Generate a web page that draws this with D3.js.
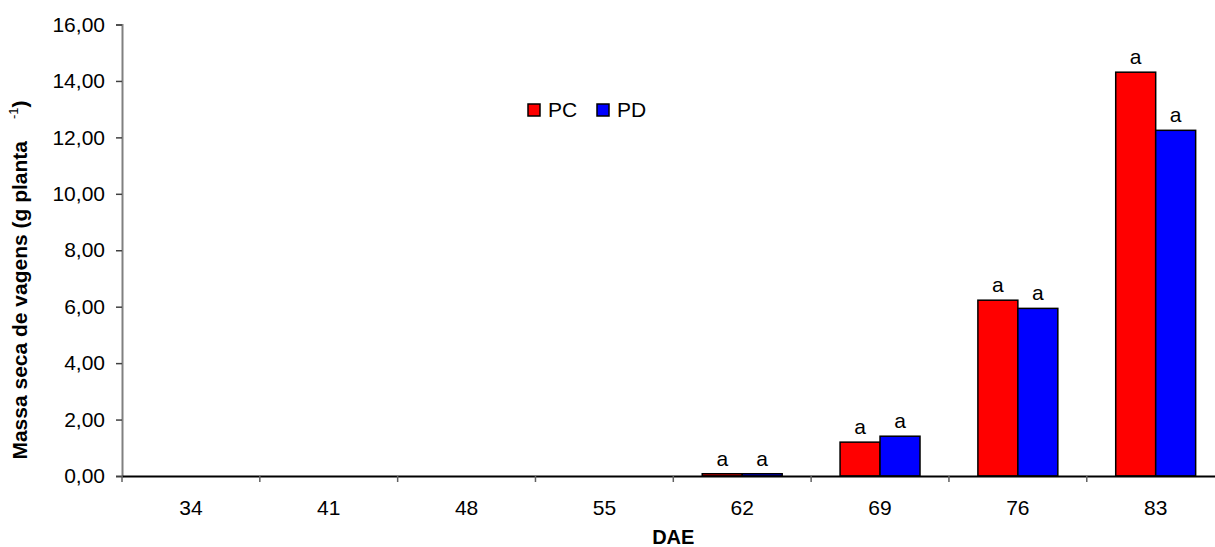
<!DOCTYPE html>
<html><head><meta charset="utf-8">
<script src="https://cdn.jsdelivr.net/npm/d3@7"></script>
<style>body{margin:0;background:#fff}svg{display:block}text{font-family:Arial,"Liberation Sans",sans-serif}</style>
</head><body><svg id="c" width="1215" height="547"></svg>
<script>
const categories = ["34","41","48","55","62","69","76","83"];
const seriesNames = ["PC","PD"];
const pcValues = [0,0,0,0,0.08,1.20,6.23,14.31];
const pdValues = [0,0,0,0,0.08,1.41,5.94,12.25];
const pcLabels = ["","","","","a","a","a","a"];
const pdLabels = ["","","","","a","a","a","a"];
const yTicks = [0,2,4,6,8,10,12,14,16];
const colors = ["#FF0000","#0000FF"];

(function(){
const svg = d3.select("#c");
const mLeft = 122, mRight = 1224.6, mTop = 24.5, mBottom = 476;
const x = d3.scaleBand().domain(categories).range([mLeft, mRight]).padding(0);
const y = d3.scaleLinear().domain([0,16]).range([mBottom, mTop]);
const fmt = v => d3.format(".2f")(v).replace(".", ",");

// Y axis
const ya = svg.append("g").attr("transform",`translate(${mLeft},0)`)
  .call(d3.axisLeft(y).tickValues(yTicks).tickFormat(fmt).tickSize(6).tickPadding(11));
ya.select(".domain").attr("stroke","#808080").attr("stroke-width",2);
ya.selectAll(".tick line").attr("stroke","#404040").attr("stroke-width",1.5);
ya.selectAll("text").attr("font-size",21).attr("fill","#000").style("font-family","Arial, 'Liberation Sans', sans-serif");

// bars
const bw = x.bandwidth()*0.29;
const series = [pcValues, pdValues];
const labels = [pcLabels, pdLabels];
series.forEach((vals, si) => {
  const g = svg.append("g");
  categories.forEach((c, i) => {
    if (vals[i] <= 0) return;
    const cx = x(c) + x.bandwidth()/2;
    const bx = si === 0 ? cx - bw : cx;
    g.append("rect").attr("x", bx).attr("y", y(vals[i]))
      .attr("width", bw).attr("height", y(0)-y(vals[i]))
      .attr("fill", colors[si]).attr("stroke","#000").attr("stroke-width",1.5);
    if (labels[si][i]) g.append("text").attr("x", bx + bw/2).attr("y", y(vals[i]) - 8)
      .attr("text-anchor","middle").attr("font-size",21).text(labels[si][i]);
  });
});

// X axis
const xa = svg.append("g").attr("transform",`translate(0,${mBottom})`)
  .call(d3.axisBottom(x).tickSize(0).tickPadding(24));
xa.select(".domain").attr("stroke","#000").attr("stroke-width",2);
xa.selectAll("text").attr("font-size",21).attr("fill","#000").style("font-family","Arial, 'Liberation Sans', sans-serif");
// category separator ticks
svg.append("g").selectAll("line").data(categories).join("line")
  .attr("x1", d => x(d)).attr("x2", d => x(d))
  .attr("y1", mBottom).attr("y2", mBottom + 6)
  .attr("stroke","#606060").attr("stroke-width",1.5);

// axis titles
svg.append("text").attr("x",(mLeft+mRight)/2).attr("y",544)
  .attr("text-anchor","middle").attr("font-size",20).attr("font-weight","bold").text("DAE");
const yt = svg.append("text").attr("transform","translate(27,280) rotate(-90)")
  .attr("text-anchor","middle").attr("font-size",21).attr("font-weight","bold");
yt.append("tspan").text("Massa seca de vagens (g planta");
yt.append("tspan").attr("font-size",13).attr("font-weight","normal").attr("dx",22).attr("dy",-9).text("-1");
yt.append("tspan").attr("dy",9).text(")");

// legend
const lg = svg.append("g");
const lx = [528, 597];
seriesNames.forEach((n, i) => {
  lg.append("rect").attr("x", lx[i]).attr("y",104).attr("width",12).attr("height",12)
    .attr("fill", colors[i]).attr("stroke","#000").attr("stroke-width",1.5);
  lg.append("text").attr("x", lx[i]+20).attr("y",117).attr("font-size",21).text(n);
});
})();
</script></body></html>
